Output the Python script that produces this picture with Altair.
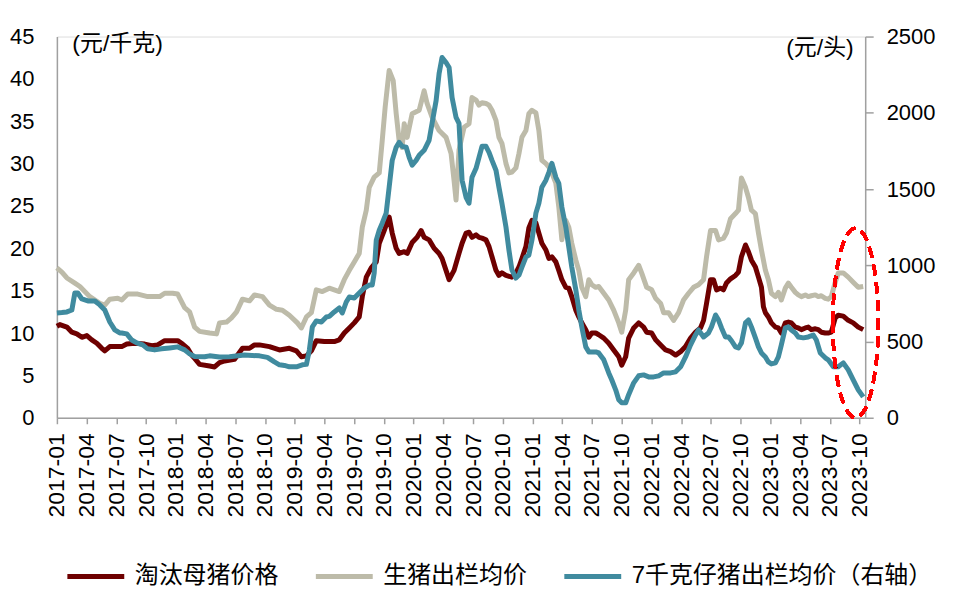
import altair as alt
import pandas as pd

SERIES = ["淘汰母猪价格", "生猪出栏均价", "7千克仔猪出栏均价（右轴）"]
COLORS = ["#6E0000", "#BDBBA9", "#408B9F"]

# months since 2017-01 (fractional) and values
SOW_T = [0, 0.30, 1.01, 1.51, 2.01, 2.52, 3.02, 3.52, 4.03, 4.53, 4.83, 5.34, 6.04, 6.55, 7.05, 7.85,
         8.86, 9.57, 10.17, 10.88, 11.58, 12.19, 12.69, 13.19, 13.60, 13.90, 14.40, 15.41, 15.91, 16.41,
         16.92, 17.93, 18.73, 19.44, 19.94, 20.44, 21.45, 22.46, 23.46, 24.17, 24.67, 25.18, 25.68, 26.18,
         26.99, 27.99, 28.50, 29.00, 29.51, 30.01, 30.51, 30.82, 31.22, 31.72, 32.23, 32.53, 33.03, 33.53,
         33.84, 34.24, 34.54, 35.05, 35.35, 35.85, 36.35, 36.76, 37.06, 37.56, 38.07, 38.57, 38.87, 39.27,
         39.58, 40.08, 40.58, 40.89, 41.29, 41.59, 41.89, 42.30, 42.60, 42.90, 43.30, 43.61, 43.91, 44.31,
         44.61, 44.91, 45.32, 45.92, 46.32, 46.63, 46.93, 47.33, 47.63, 47.94, 48.34, 48.64, 48.94, 49.35,
         49.65, 49.95, 50.35, 50.65, 50.96, 51.36, 51.66, 51.96, 52.37, 52.67, 52.97, 53.37, 53.68, 53.98,
         54.38, 54.68, 55.19, 55.69, 56.19, 56.70, 57.00, 57.40, 57.70, 58.21, 58.71, 59.21, 59.52, 60.02,
         60.42, 60.93, 61.43, 61.93, 62.44, 62.94, 63.44, 63.95, 64.45, 64.95, 65.26, 65.56, 65.96, 66.26,
         66.57, 66.97, 67.27, 67.57, 67.98, 68.48, 68.78, 69.08, 69.49, 69.79, 70.09, 70.49, 70.80, 71.10,
         71.30, 71.50, 71.80, 72.10, 72.51, 72.81, 73.11, 73.51, 73.82, 74.12, 74.52, 74.82, 75.13, 75.53,
         75.83, 76.13, 76.54, 76.84, 77.14, 77.54, 77.84, 78.15, 78.55, 78.85, 79.36, 79.86, 80.36, 80.87, 81.37]
SOW_V = [10.8, 11.0, 10.7, 10.1, 9.9, 9.5, 9.7, 9.2, 8.8, 8.2, 7.9, 8.4, 8.4, 8.4, 8.7, 8.8,
         8.7, 8.5, 8.6, 9.1, 9.1, 9.1, 8.7, 8.2, 7.4, 7.0, 6.3, 6.1, 6.0, 6.5,
         6.7, 6.9, 8.2, 8.2, 8.6, 8.6, 8.4, 8.0, 8.2, 7.9, 7.2, 7.3, 7.9, 9.1,
         9.0, 9.0, 9.2, 10.0, 10.6, 11.2, 11.9, 14.3, 16.6, 17.7, 18.4, 20.6, 22.1, 23.7,
         21.8, 20.0, 19.4, 19.6, 19.4, 20.7, 21.3, 22.1, 21.3, 21.0, 20.0, 19.4, 18.8, 17.4,
         16.3, 17.4, 19.4, 20.6, 21.8, 21.9, 21.3, 21.6, 21.3, 21.2, 21.0, 20.2, 19.0, 17.4,
         16.8, 17.1, 16.8, 16.6, 17.1, 17.8, 18.8, 20.2, 22.4, 23.3, 23.0, 21.8, 20.6, 19.8,
         18.8, 19.0, 18.4, 17.4, 16.3, 15.4, 15.3, 14.3, 12.7, 11.9, 11.2, 10.4, 9.5, 10.0,
         10.0, 9.8, 9.4, 8.8, 8.0, 7.2, 6.2, 7.2, 9.4, 10.6, 11.2, 10.7, 10.1, 10.0,
         9.2, 8.6, 8.0, 7.8, 7.4, 7.8, 8.4, 9.4, 10.1, 10.6, 11.5, 13.5, 16.3, 16.3,
         15.1, 15.3, 15.1, 15.9, 16.4, 16.8, 17.2, 19.0, 20.4, 19.6, 18.6, 17.8, 16.6, 15.4,
         13.1, 12.4, 11.9, 11.2, 10.7, 10.6, 10.0, 11.2, 11.3, 11.2, 10.7, 10.6, 10.4, 10.6,
         10.7, 10.4, 10.5, 10.4, 10.1, 10.0, 10.0, 10.1, 11.8, 12.1, 12.0, 11.5, 11.2, 10.7, 10.4]

HOG_T = [0, 0.50, 1.01, 1.81, 2.32, 3.32, 4.33, 4.83, 5.34, 6.14, 6.55, 7.15, 8.16, 9.16, 10.37, 10.88,
         11.68, 12.19, 12.89, 13.39, 13.90, 14.40, 15.41, 16.11, 16.41, 17.12, 17.62, 18.13, 18.73, 19.44,
         19.94, 20.75, 21.45, 22.16, 22.76, 23.46, 24.27, 24.67, 25.18, 25.68, 26.18, 26.79, 27.49, 27.99,
         28.50, 29.00, 29.51, 30.01, 30.51, 30.82, 31.22, 31.52, 32.02, 32.53, 32.83, 33.13, 33.53, 33.94,
         34.24, 34.54, 34.84, 35.05, 35.35, 35.85, 36.56, 37.06, 37.36, 37.86, 38.57, 39.27, 39.78, 40.08,
         40.28, 40.58, 41.09, 41.59, 41.89, 42.30, 42.60, 42.90, 43.30, 43.61, 43.91, 44.31, 44.61, 44.91,
         45.32, 45.62, 45.92, 46.32, 46.63, 46.93, 47.33, 47.63, 47.94, 48.34, 48.64, 48.94, 49.35, 49.65,
         49.95, 50.35, 50.65, 50.96, 51.36, 51.66, 51.96, 52.37, 52.67, 52.97, 53.37, 53.68, 53.98, 54.38,
         54.68, 55.19, 55.69, 56.19, 56.70, 57.00, 57.40, 57.70, 58.21, 58.71, 59.01, 59.52, 60.02, 60.42,
         60.93, 61.23, 61.73, 62.24, 62.74, 63.24, 63.75, 64.25, 64.75, 65.26, 65.56, 65.96, 66.47, 66.77,
         67.27, 67.57, 67.98, 68.48, 68.78, 69.08, 69.49, 69.79, 70.09, 70.49, 70.80, 71.10, 71.50, 71.80,
         72.10, 72.51, 72.81, 73.11, 73.51, 73.82, 74.12, 74.52, 74.82, 75.13, 75.53, 75.83, 76.13, 76.54,
         76.84, 77.14, 77.54, 77.84, 78.15, 78.55, 78.85, 79.36, 79.86, 80.36, 80.87, 81.37]
HOG_V = [17.7, 17.2, 16.5, 15.9, 15.5, 14.3, 13.5, 13.3, 14.0, 14.1, 13.9, 14.6, 14.6, 14.3, 14.3, 14.7,
         14.7, 14.6, 13.0, 12.5, 10.7, 10.2, 10.0, 9.9, 11.2, 11.3, 11.8, 12.5, 14.0, 13.8,
         14.5, 14.3, 13.3, 12.8, 12.7, 12.1, 11.2, 10.6, 11.9, 12.4, 15.1, 14.9, 15.3, 15.1,
         14.9, 16.3, 17.4, 18.4, 19.4, 22.5, 24.5, 27.2, 28.4, 28.9, 32.7, 36.7, 41.0, 39.8,
         35.9, 32.7, 31.9, 34.7, 33.1, 35.9, 36.3, 38.6, 37.1, 35.5, 33.9, 33.1, 31.2, 28.0,
         25.7, 31.6, 34.3, 34.7, 37.8, 37.5, 36.9, 37.2, 37.1, 36.9, 36.3, 35.1, 33.1, 32.4,
         30.0, 28.9, 29.0, 29.5, 31.2, 33.1, 33.9, 35.9, 36.3, 36.0, 33.9, 30.4, 30.0, 29.6,
         28.9, 27.7, 24.9, 21.0, 23.3, 22.5, 20.6, 18.6, 17.4, 15.4, 14.3, 16.3, 15.7, 15.4,
         15.5, 14.7, 13.9, 12.7, 11.2, 10.1, 12.7, 16.3, 17.1, 18.0, 17.1, 15.4, 15.1, 14.1,
         13.5, 12.4, 12.4, 11.5, 12.4, 13.9, 14.7, 15.4, 15.7, 16.3, 19.0, 22.1, 22.1, 21.0,
         21.2, 21.8, 23.5, 24.1, 24.5, 28.3, 27.2, 26.0, 24.5, 24.1, 21.8, 19.8, 17.4, 16.3,
         14.7, 14.3, 14.8, 13.9, 15.3, 15.9, 15.4, 14.8, 14.5, 14.3, 14.5, 14.3, 14.4, 14.5,
         14.3, 14.4, 14.1, 14.0, 14.3, 16.0, 17.1, 17.1, 16.6, 16.0, 15.4, 15.5]

PIGLET_T = [0, 0.50, 1.01, 1.51, 1.81, 2.11, 2.52, 3.12, 3.83, 4.33, 4.83, 5.34, 5.84, 6.34, 6.55, 7.05,
            7.55, 8.06, 8.66, 9.16, 9.87, 10.57, 11.38, 12.19, 12.89, 13.39, 13.90, 14.90, 15.41, 16.41,
            17.42, 18.93, 20.44, 21.25, 21.95, 22.46, 22.96, 23.46, 24.17, 24.77, 25.18, 25.48, 25.78, 26.18,
            26.69, 27.19, 27.49, 27.99, 28.50, 28.80, 29.20, 29.51, 30.01, 30.51, 31.02, 31.52, 31.82, 32.02,
            32.23, 32.53, 32.83, 33.23, 33.53, 33.84, 34.24, 34.54, 34.84, 35.25, 35.55, 35.85, 36.25, 36.56,
            37.06, 37.56, 37.86, 38.27, 38.57, 38.87, 39.27, 39.58, 39.88, 40.28, 40.58, 40.89, 41.29, 41.59,
            41.89, 42.30, 42.60, 42.90, 43.30, 43.61, 43.91, 44.31, 44.61, 44.91, 45.32, 45.62, 45.92, 46.32,
            46.63, 46.93, 47.33, 47.63, 47.94, 48.34, 48.64, 48.94, 49.35, 49.65, 49.95, 50.35, 50.65, 50.96,
            51.36, 51.66, 51.96, 52.37, 52.67, 52.97, 53.37, 53.68, 54.38, 54.68, 55.19, 55.69, 55.99, 56.39,
            56.70, 57.00, 57.40, 57.70, 58.21, 58.71, 59.21, 59.72, 60.22, 60.73, 61.23, 61.93, 62.44, 62.94,
            63.44, 63.95, 64.45, 64.75, 65.26, 65.76, 66.06, 66.47, 66.77, 67.07, 67.47, 67.77, 68.08, 68.48,
            68.78, 69.08, 69.49, 69.79, 70.09, 70.49, 70.80, 71.10, 71.50, 71.80, 72.10, 72.51, 72.81, 73.11,
            73.51, 73.82, 74.12, 74.52, 74.82, 75.33, 75.83, 76.33, 76.64, 77.04, 77.54, 77.84, 78.35, 78.85,
            79.36, 79.86, 80.36, 80.87, 81.37]
PIGLET_V = [687, 690, 694, 707, 818, 818, 779, 766, 766, 740, 707, 628, 576, 556, 556, 550,
            510, 491, 478, 452, 445, 452, 458, 465, 445, 419, 402, 400, 406, 399,
            400, 412, 406, 396, 366, 347, 343, 334, 334, 347, 350, 445, 596, 635,
            628, 661, 665, 694, 720, 687, 759, 792, 785, 818, 851, 870, 870, 949,
            1165, 1230, 1276, 1342, 1512, 1688, 1774, 1806, 1780, 1774, 1708, 1656, 1688, 1721,
            1754, 1819, 1931, 2081, 2258, 2363, 2330, 2297, 2101, 1970, 1931, 1558, 1446, 1407,
            1577, 1636, 1708, 1780, 1780, 1741, 1688, 1623, 1512, 1407, 1250, 1099, 969, 916,
            936, 988, 1054, 1067, 1165, 1342, 1407, 1512, 1558, 1610, 1669, 1577, 1538, 1381,
            1250, 1119, 988, 838, 707, 596, 465, 432, 432, 425, 380, 294, 249, 183,
            118, 98, 98, 151, 229, 275, 281, 268, 268, 275, 294, 294, 301, 334,
            399, 478, 543, 576, 530, 556, 596, 674, 641, 589, 530, 530, 505, 465,
            458, 491, 622, 641, 596, 524, 465, 425, 399, 366, 353, 360, 399, 478,
            589, 596, 576, 556, 530, 524, 530, 543, 510, 425, 393, 380, 334, 334,
            360, 314, 249, 183, 137]

TICK_LABELS = ["2017-01", "2017-04", "2017-07", "2017-10", "2018-01", "2018-04", "2018-07", "2018-10",
               "2019-01", "2019-04", "2019-07", "2019-10", "2020-01", "2020-04", "2020-07", "2020-10",
               "2021-01", "2021-04", "2021-07", "2021-10", "2022-01", "2022-04", "2022-07", "2022-10",
               "2023-01", "2023-04", "2023-07", "2023-10"]
TICK_MONTHS = [3 * i for i in range(len(TICK_LABELS))]
LEFT_TICKS = [0, 5, 10, 15, 20, 25, 30, 35, 40, 45]
RIGHT_TICKS = [0, 500, 1000, 1500, 2000, 2500]

sow_df = pd.DataFrame({"t": SOW_T, "v": SOW_V, "series": SERIES[0]})
hog_df = pd.DataFrame({"t": HOG_T, "v": HOG_V, "series": SERIES[1]})
piglet_df = pd.DataFrame({"t": PIGLET_T, "v": PIGLET_V, "series": SERIES[2]})

NUM_FONT = "Liberation Sans"
CJK_FONT = "Liberation Sans, Noto Sans CJK SC"
AXIS_GRAY = "#A0A0A0"

label_expr = "[" + ",".join("'%s'" % s for s in TICK_LABELS) + "][round(datum.value / 3)]"

x_enc = alt.X(
    "t:Q",
    scale=alt.Scale(domain=[0, 81.57], nice=False, zero=False),
    axis=alt.Axis(
        values=TICK_MONTHS, tickCount=len(TICK_MONTHS) + 2, labelExpr=label_expr, title=None, grid=False,
        labelAngle=270, labelAlign="right", labelBaseline="middle", labelPadding=9,
        labelFontSize=23, labelFont=NUM_FONT, labelColor="#000000", labelOverlap=False,
        labelFlush=False, ticks=True, tickSize=6, tickColor=AXIS_GRAY, tickWidth=1.5,
        domainColor=AXIS_GRAY, domainWidth=1.5,
    ),
)

color_enc = alt.Color(
    "series:N",
    scale=alt.Scale(domain=SERIES, range=COLORS),
    legend=alt.Legend(
        title=None, orient="none", legendX=8, legendY=510, direction="horizontal",
        symbolType="stroke", symbolSize=3249, symbolStrokeWidth=5,
        labelFont=CJK_FONT, labelFontSize=24, labelColor="#000000", labelLimit=500,
        labelOffset=8, columnPadding=27,
    ),
)

left_axis = alt.Axis(
    values=LEFT_TICKS, tickCount=12, grid=False, ticks=False, labelPadding=23, labelFontSize=22,
    labelFont=NUM_FONT, labelColor="#000000", domainColor=AXIS_GRAY, domainWidth=1.5,
    title="(元/千克)", titleAngle=0, titleX=15, titleY=7, titleAlign="left",
    titleBaseline="middle", titleFont=CJK_FONT, titleFontSize=23, titleFontWeight="normal",
    titleColor="#000000",
)
right_axis = alt.Axis(
    values=RIGHT_TICKS, tickCount=8, format="d", grid=False, ticks=True, tickSize=8,
    tickColor=AXIS_GRAY, tickWidth=1.5,
    labelPadding=13, labelFontSize=22, labelFont=NUM_FONT, labelColor="#000000",
    domainColor=AXIS_GRAY, domainWidth=1.5, orient="right",
    title="(元/头)", titleAngle=0, titleX=-12, titleY=11, titleAlign="right",
    titleBaseline="middle", titleFont=CJK_FONT, titleFontSize=23, titleFontWeight="normal",
    titleColor="#000000",
)

y_left = alt.Y("v:Q", scale=alt.Scale(domain=[0, 45], nice=False), axis=left_axis)
y_right = alt.Y("v:Q", scale=alt.Scale(domain=[0, 2500], nice=False), axis=right_axis)

LW = 5
sow = alt.Chart(sow_df).mark_line(strokeWidth=LW, strokeJoin="round").encode(x=x_enc, y=y_left, color=color_enc)
hog = alt.Chart(hog_df).mark_line(strokeWidth=LW, strokeJoin="round").encode(x=x_enc, y=y_left, color=color_enc)
piglet = alt.Chart(piglet_df).mark_line(strokeWidth=LW, strokeJoin="round").encode(x=x_enc, y=y_right, color=color_enc)

ELLIPSE = "M -0.24 0 A 0.24 1 0 1 1 0.24 0 A 0.24 1 0 1 1 -0.24 0 Z"
ellipse = alt.Chart(piglet_df).mark_point(
    shape=ELLIPSE, size=36100, filled=False, stroke="#FF0000", strokeWidth=3,
    strokeDash=[11, 7], opacity=1,
).encode(x=alt.datum(80.6), y=alt.datum(622, scale=alt.Scale(domain=[0, 2500], nice=False)))

left_layer = alt.layer(hog, sow)
right_layer = alt.layer(piglet, ellipse)

chart = alt.layer(left_layer, right_layer).resolve_scale(y="independent").properties(
    width=810, height=382,
    padding={"left": 49, "top": 28, "right": 90, "bottom": 175},
    autosize=alt.AutoSizeParams(type="none"),
).configure_view(stroke=None).configure(background="#FFFFFF")

chart.save("out.html", embed_options={"renderer": "svg", "actions": False})
